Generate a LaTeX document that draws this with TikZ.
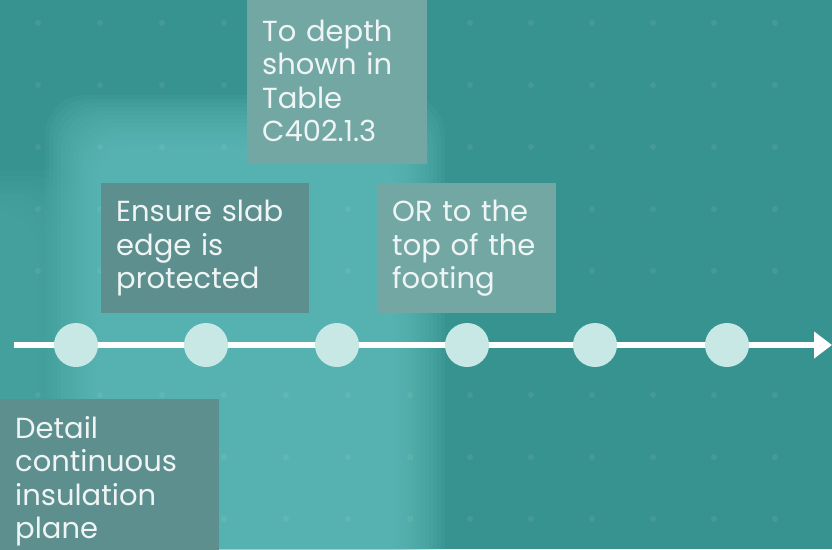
\documentclass[tikz,border=0pt]{standalone}
\usepackage{fontspec}
\setmainfont{Poppins}
\usetikzlibrary{arrows.meta}
\definecolor{tealbase}{HTML}{37938F}
\definecolor{teallite}{HTML}{66C4C2}
\definecolor{boxdark}{HTML}{5C8F8D}
\definecolor{boxlite}{HTML}{72A7A4}
\definecolor{stopfill}{HTML}{C8E8E6}
\definecolor{notetext}{HTML}{EEF5F4}

\begin{document}
\begin{tikzpicture}[x=1pt, y=-1pt,
	note/.style={fill=#1, text=notetext, align=left, inner xsep=15pt, inner ysep=0pt,
		font=\fontsize{29}{33.5}\selectfont},
	stop/.style={circle, fill=stopfill, minimum size=44pt, inner sep=0pt}]
	\useasboundingbox (0,0) rectangle (832,549);
	\clip (0,0) rectangle (832,549);
	\fill[tealbase] (0,0) rectangle (832,549);
	\foreach \k in {0,...,13} {\fill[teallite, opacity=0.09, rounded corners=40pt] (45+4*\k,95+4*\k) rectangle (445-4*\k,590);}
	\foreach \k in {0,...,7} {\fill[teallite, opacity=0.05, rounded corners=40pt] (-60,170+6*\k) rectangle (80-6*\k,600);}
	\foreach \x in {38,100,162,224,286,348,410,470,531,592,653,714,775} {
		\foreach \y in {23,85,147,209,271,395,457,519} {\fill[white, opacity=0.07] (\x,\y) circle (3pt);}}
	\node[note=boxlite, text width=150pt, minimum height=166pt, anchor=south west] (depth) at (247,164)
		{To depth\\shown in\\Table\\C402.1.3};
	\node[note=boxdark, text width=178pt, minimum height=130pt, anchor=north west] (slab) at (101,183)
		{Ensure slab\\edge is\\protected};
	\node[note=boxlite, text width=149pt, minimum height=130pt, anchor=north west] (footing) at (377,183)
		{OR to the\\top of the\\footing};
	\node[note=boxdark, text width=189pt, minimum height=164pt, anchor=north west] (plane) at (0,399)
		{Detail\\continuous\\insulation\\plane};
	\coordinate (tail) at (14,345);
	\coordinate (head) at (832,345);
	\draw[white, line width=6pt, -{Triangle[length=18pt, width=26pt]}] (tail) -- (head);
	\foreach \x [count=\i] in {76,206,337,467,595,727} {\node[stop] (s\i) at (\x,345) {};}
\end{tikzpicture}
\end{document}
